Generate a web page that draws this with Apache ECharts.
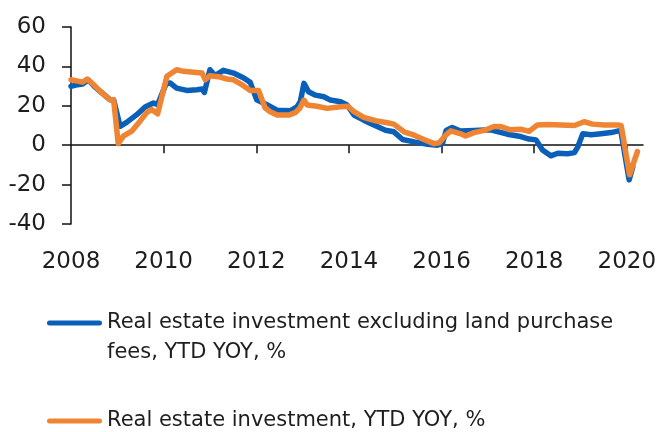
<!DOCTYPE html>
<html><head><meta charset="utf-8">
<script src="https://cdn.jsdelivr.net/npm/echarts@6/dist/echarts.min.js"></script>
<style>html,body{margin:0;padding:0;background:#fff}#c{width:660px;height:432px}</style>
</head><body><div id="c"></div><script>
// ---- data (x = decimal year, y = YTD YoY %) ----
const seriesNames = [
  'Real estate investment excluding land purchase fees, YTD YOY, %',
  'Real estate investment, YTD YOY, %'
];
const xTickLabels = [2008, 2010, 2012, 2014, 2016, 2018, 2020];
const xTickMarks = [2010, 2012, 2014, 2016, 2018, 2020];
const yTickValues = [-40, -20, 0, 20, 40, 60];

const excludingLand = [
  [2008.00,29.9],[2008.10,30.5],[2008.25,31.0],[2008.37,33.2],[2008.50,30.0],[2008.63,27.3],
  [2008.84,23.1],[2008.92,23.1],[2009.06,9.6],[2009.20,11.6],[2009.42,15.5],[2009.60,19.4],
  [2009.78,21.4],[2009.87,20.6],[2010.05,31.0],[2010.14,31.6],[2010.28,29.0],[2010.50,27.8],
  [2010.72,28.2],[2010.83,28.5],[2010.88,26.8],[2011.00,38.3],[2011.11,35.3],[2011.29,38.0],
  [2011.51,36.6],[2011.73,34.1],[2011.87,31.9],[2012.01,23.1],[2012.23,20.5],[2012.45,17.8],
  [2012.74,17.5],[2012.88,19.5],[2012.95,22.0],[2013.03,31.4],[2013.13,27.1],[2013.28,25.4],
  [2013.46,24.6],[2013.60,22.9],[2013.82,22.1],[2013.96,20.4],[2014.11,15.3],[2014.32,12.7],
  [2014.54,10.2],[2014.79,7.6],[2014.97,6.8],[2015.16,2.9],[2015.41,1.7],[2015.70,0.5],
  [2015.91,0.0],[2016.02,0.8],[2016.10,7.5],[2016.23,9.0],[2016.41,7.2],[2016.70,7.5],
  [2017.06,7.8],[2017.42,5.6],[2017.71,4.4],[2017.89,3.1],[2018.04,2.7],[2018.18,-2.4],
  [2018.36,-5.4],[2018.51,-4.1],[2018.72,-4.4],[2018.87,-3.7],[2018.94,-1.0],[2019.05,5.8],
  [2019.23,5.3],[2019.44,5.8],[2019.66,6.4],[2019.87,7.5],[2020.05,-17.6],[2020.13,-11.0]
];
const totalInvestment = [
  [2008.00,33.2],[2008.15,32.5],[2008.25,32.0],[2008.35,33.6],[2008.50,30.5],[2008.63,27.3],
  [2008.84,23.1],[2008.92,23.1],[2009.02,0.8],[2009.13,4.6],[2009.31,7.1],[2009.49,12.2],
  [2009.64,16.7],[2009.74,18.1],[2009.87,15.9],[2010.07,35.0],[2010.28,38.3],[2010.43,37.5],
  [2010.65,37.0],[2010.83,36.6],[2010.90,33.2],[2011.00,35.3],[2011.22,34.6],[2011.37,33.6],
  [2011.51,33.2],[2011.69,30.7],[2011.87,27.8],[2012.05,27.8],[2012.19,19.0],[2012.30,17.0],
  [2012.45,15.3],[2012.70,15.3],[2012.84,16.5],[2012.94,18.7],[2013.03,22.9],[2013.10,20.4],
  [2013.31,19.8],[2013.53,18.7],[2013.82,19.5],[2013.98,19.8],[2014.11,17.0],[2014.32,14.1],
  [2014.58,12.4],[2014.83,11.4],[2014.97,10.7],[2015.19,6.8],[2015.41,5.1],[2015.62,2.9],
  [2015.84,0.8],[2015.95,1.2],[2016.09,5.1],[2016.20,7.3],[2016.40,5.9],[2016.52,4.7],
  [2016.70,6.4],[2016.92,7.5],[2017.13,9.5],[2017.28,9.5],[2017.49,7.8],[2017.71,8.1],
  [2017.89,7.0],[2018.07,10.3],[2018.29,10.5],[2018.58,10.3],[2018.87,10.0],[2019.08,11.9],
  [2019.26,10.7],[2019.52,10.3],[2019.81,10.3],[2019.88,9.9],[2020.06,-15.0],[2020.23,-3.2]
];

// ---- styles ----
const FONT = 'DejaVu Sans, Liberation Sans, sans-serif';
const BLUE = '#0a60b8';
const ORANGE = '#ef8532';
const AXIS = '#111';
const TEXT = '#1e1e1e';

const chart = echarts.init(document.getElementById('c'), null, {renderer: 'canvas'});
const lineIcon2 = 'path://M2.5,12.5H52.5A2.5,2.5,0,0,1,52.5,17.5H2.5A2.5,2.5,0,0,1,2.5,12.5Z M0,0L0.01,0L0,0.01Z M55,60L54.99,60L55,59.99Z';
const lineIcon1 = 'path://M2.5,12.5H52.5A2.5,2.5,0,0,1,52.5,17.5H2.5A2.5,2.5,0,0,1,2.5,12.5Z M0,0L0.01,0L0,0.01Z M55,30L54.99,30L55,29.99Z';
const legendText = {fontFamily: FONT, fontSize: 21, color: TEXT, lineHeight: 30};

chart.setOption({
  animation: false,
  backgroundColor: '#fff',
  grid: {left: 71, right: 17, top: 27, bottom: 208, containLabel: false},
  legend: [
    {data: [seriesNames[0]], left: 47, top: 308, padding: 0, orient: 'vertical',
     itemWidth: 55, itemHeight: 60, icon: lineIcon2, itemStyle: {borderWidth: 0},
     textStyle: legendText,
     formatter: () => 'Real estate investment excluding land purchase\nfees, YTD YOY, %'},
    {data: [seriesNames[1]], left: 47, top: 406, padding: 0, orient: 'vertical',
     itemWidth: 55, itemHeight: 30, icon: lineIcon1, itemStyle: {borderWidth: 0},
     textStyle: legendText}
  ],
  xAxis: [
    {type: 'value', min: 2008, max: 2020.35, interval: 2,
     axisLine: {show: true, onZero: true, lineStyle: {color: AXIS, width: 1.5}},
     axisTick: {show: true, length: 8, customValues: xTickMarks, lineStyle: {color: AXIS, width: 1.5}},
     axisLabel: {show: false}, splitLine: {show: false}},
    {type: 'value', min: 2008, max: 2020.35, interval: 2, position: 'bottom',
     axisLine: {show: false, onZero: false}, axisTick: {show: false}, splitLine: {show: false},
     axisLabel: {show: true, customValues: xTickLabels, margin: 27,
       fontFamily: FONT, fontSize: 23, color: TEXT, formatter: v => String(v)}}
  ],
  yAxis: {type: 'value', min: -40, max: 60, interval: 20,
    axisLine: {show: true, onZero: false, lineStyle: {color: AXIS, width: 1.5}},
    axisTick: {show: true, length: 9, lineStyle: {color: AXIS, width: 1.5}},
    axisLabel: {margin: 25, fontFamily: FONT, fontSize: 23, color: TEXT},
    splitLine: {show: false}},
  series: [
    {name: seriesNames[0], type: 'line', xAxisIndex: 0, data: excludingLand, symbol: 'none',
     color: BLUE, lineStyle: {width: 5.5, color: BLUE, cap: 'round', join: 'round'}, z: 2},
    {name: seriesNames[1], type: 'line', xAxisIndex: 0, data: totalInvestment, symbol: 'none',
     color: ORANGE, lineStyle: {width: 5.5, color: ORANGE, cap: 'round', join: 'round'}, z: 3}
  ]
});
</script></body></html>
